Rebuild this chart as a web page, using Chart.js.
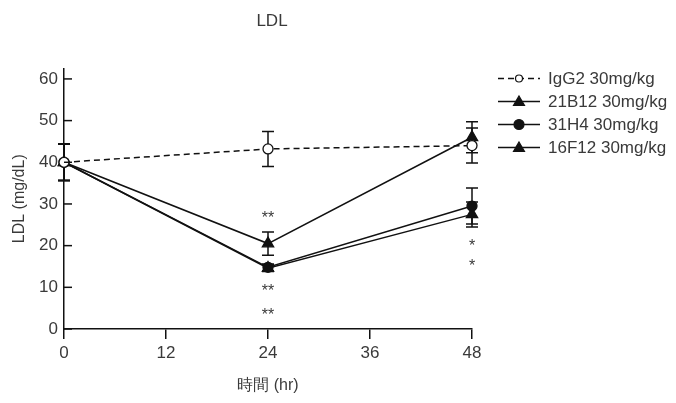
<!DOCTYPE html>
<html>
<head>
<meta charset="utf-8">
<script src="https://cdn.jsdelivr.net/npm/chart.js@4/dist/chart.umd.min.js"></script>
<style>
  html, body { margin: 0; padding: 0; background: #fff; }
  #wrap { width: 676px; height: 403px; position: relative; }
</style>
</head>
<body>
<div id="wrap"><canvas id="c" width="676" height="403"></canvas></div>
<script>
// Time points (hr)
const hours = [0, 24, 48];
const xTicks = [0, 12, 24, 36, 48];
const yTicks = [0, 10, 20, 30, 40, 50, 60];

// Series labels
const seriesNames = ['IgG2 30mg/kg', '21B12 30mg/kg', '31H4 30mg/kg', '16F12 30mg/kg'];

// Mean LDL (mg/dL) and error (±) per series
const igg2 = [40, 43.2, 44];
const igg2Err = [4.4, 4.2, 4.2];
const ab21B12 = [40, 20.5, 46];
const ab21B12Err = [4.4, 2.8, 3.7];
const ab31H4 = [40, 14.8, 29.5];
const ab31H4Err = [4.4, 0.8, 4.3];
const ab16F12 = [40, 14.6, 27.5];
const ab16F12Err = [4.4, 0.8, 3.0];

// Significance marks
const starX = [24, 24, 24, 48, 48];
const starY = [27.5, 9.9, 4.1, 20.7, 15.9];
const starText = ['**', '**', '**', '*', '*'];

const FONT = '"Liberation Sans", Arial, sans-serif';
const TEXT = '#3a3a3a';
const INK = '#111';

function pts(vals) { return hours.map((h, i) => ({ x: h, y: vals[i] })); }

const errors = [igg2Err, ab21B12Err, ab31H4Err, ab16F12Err];

function ds(label, vals, style, fill, dashed) {
  return {
    label, data: pts(vals),
    borderColor: INK, borderWidth: 1.5,
    borderDash: dashed ? [6, 4] : [],
    pointStyle: style,
    pointRadius: style === 'triangle' ? 6.5 : 5,
    pointBackgroundColor: fill, pointBorderColor: INK, pointBorderWidth: 1.3,
    clip: false, tension: 0
  };
}

const errorBars = {
  id: 'errorBars',
  beforeDatasetsDraw(chart) {
    const { ctx, scales: { x, y } } = chart;
    ctx.save();
    ctx.strokeStyle = INK; ctx.lineWidth = 1.5;
    chart.data.datasets.forEach((d, di) => {
      d.data.forEach((p, i) => {
        const e = errors[di][i];
        const px = x.getPixelForValue(p.x);
        const t = y.getPixelForValue(p.y + e), b = y.getPixelForValue(p.y - e);
        ctx.beginPath();
        ctx.moveTo(px, t); ctx.lineTo(px, b);
        ctx.moveTo(px - 6, t); ctx.lineTo(px + 6, t);
        ctx.moveTo(px - 6, b); ctx.lineTo(px + 6, b);
        ctx.stroke();
      });
    });
    ctx.restore();
  }
};

const decorations = {
  id: 'decorations',
  afterDraw(chart) {
    const { ctx, chartArea, scales: { x, y } } = chart;
    ctx.save();
    // inward ticks on the value axis
    ctx.strokeStyle = INK; ctx.lineWidth = 1.5;
    yTicks.forEach(v => {
      const py = y.getPixelForValue(v);
      ctx.beginPath(); ctx.moveTo(chartArea.left, py); ctx.lineTo(chartArea.left + 8, py); ctx.stroke();
    });
    // significance stars
    ctx.fillStyle = TEXT;
    ctx.font = '16px ' + FONT;
    ctx.textAlign = 'center'; ctx.textBaseline = 'middle';
    starX.forEach((sx, i) => {
      ctx.fillText(starText[i], x.getPixelForValue(sx), y.getPixelForValue(starY[i]) + 4);
    });
    // chart title
    ctx.font = '17px ' + FONT;
    ctx.fillText('LDL', (chartArea.left + chartArea.right) / 2 + 4, 21);
    // legend
    const lx0 = chartArea.right + 26, lx1 = lx0 + 42, mx = (lx0 + lx1) / 2;
    const rowY = [chartArea.top + 10, chartArea.top + 33, chartArea.top + 56, chartArea.top + 79];
    chart.data.datasets.forEach((d, i) => {
      const ry = rowY[i];
      ctx.strokeStyle = INK; ctx.lineWidth = 1.5;
      ctx.setLineDash(d.borderDash);
      ctx.beginPath(); ctx.moveTo(lx0, ry); ctx.lineTo(lx1, ry); ctx.stroke();
      ctx.setLineDash([]);
      ctx.fillStyle = d.pointBackgroundColor;
      ctx.beginPath();
      if (d.pointStyle === 'triangle') {
        ctx.moveTo(mx, ry - 5.5); ctx.lineTo(mx + 5.5, ry + 4); ctx.lineTo(mx - 5.5, ry + 4); ctx.closePath();
      } else {
        ctx.arc(mx, ry, i === 0 ? 3.5 : 5, 0, Math.PI * 2);
      }
      ctx.fill(); ctx.lineWidth = 1.2; ctx.stroke();
      ctx.fillStyle = TEXT; ctx.font = '17px ' + FONT;
      ctx.textAlign = 'left'; ctx.textBaseline = 'middle';
      ctx.fillText(seriesNames[i], lx1 + 8, ry + 1);
    });
    ctx.restore();
  }
};

new Chart(document.getElementById('c'), {
  type: 'line',
  data: {
    datasets: [
      ds(seriesNames[0], igg2, 'circle', '#fff', true),
      ds(seriesNames[1], ab21B12, 'triangle', INK, false),
      ds(seriesNames[2], ab31H4, 'circle', INK, false),
      ds(seriesNames[3], ab16F12, 'triangle', INK, false)
    ]
  },
  options: {
    responsive: false, animation: false,
    layout: { padding: { top: 68.5, right: 204, left: 0, bottom: 0 } },
    plugins: { legend: { display: false }, title: { display: false }, tooltip: { enabled: false } },
    scales: {
      x: {
        type: 'linear', min: 0, max: 48,
        afterBuildTicks: s => { s.ticks = xTicks.map(v => ({ value: v })); },
        afterFit: s => { s.height = 74; s.paddingLeft = 0; s.paddingRight = 0; },
        border: { color: INK, width: 1.5 },
        grid: { drawOnChartArea: false, tickLength: 10, color: INK, lineWidth: 1.5 },
        ticks: { color: TEXT, font: { family: FONT, size: 17 }, padding: 4, maxRotation: 0 },
        title: { display: true, text: '時間 (hr)', color: TEXT, font: { family: FONT, size: 16 }, padding: 8 }
      },
      y: {
        type: 'linear', min: 0, max: 62.5,
        afterBuildTicks: s => { s.ticks = yTicks.map(v => ({ value: v })); },
        afterFit: s => { s.width = 64; s.paddingTop = 0; s.paddingBottom = 0; },
        border: { color: INK, width: 1.5 },
        grid: { display: false, tickLength: 0 },
        ticks: { color: TEXT, font: { family: FONT, size: 17 }, padding: 6 },
        title: { display: true, text: 'LDL (mg/dL)', color: TEXT, font: { family: FONT, size: 16 }, padding: 10 }
      }
    }
  },
  plugins: [errorBars, decorations]
});
</script>
</body>
</html>
